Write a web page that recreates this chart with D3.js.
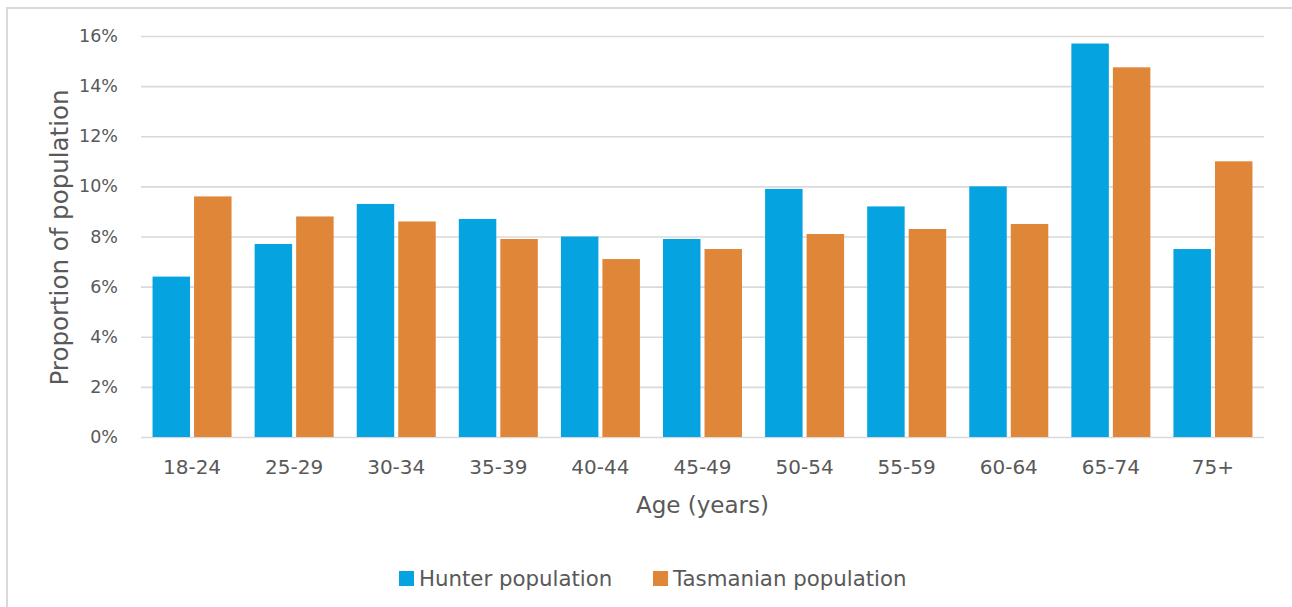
<!DOCTYPE html>
<html>
<head>
<meta charset="utf-8">
<script src="https://cdn.jsdelivr.net/npm/d3@7"></script>
<style>
  html, body { margin: 0; padding: 0; background: #fff; }
  svg { display: block; }
  text { font-family: "DejaVu Sans", sans-serif; fill: #595959; }
</style>
</head>
<body>
<script>
// Age groups and the share of each population (percent) in each group
const ageGroups = ["18-24", "25-29", "30-34", "35-39", "40-44", "45-49", "50-54", "55-59", "60-64", "65-74", "75+"];
const hunterPopulation = [6.4, 7.7, 9.3, 8.7, 8.0, 7.9, 9.9, 9.2, 10.0, 15.7, 7.5];
const tasmanianPopulation = [9.6, 8.8, 8.6, 7.9, 7.1, 7.5, 8.1, 8.3, 8.5, 14.75, 11.0];
const seriesNames = ["Hunter population", "Tasmanian population"];
const seriesColors = ["#05A4E1", "#DF8639"];
const yTicks = [0, 2, 4, 6, 8, 10, 12, 14, 16];

const W = 1292, H = 607;
const plot = { left: 141, right: 1264, top: 36, bottom: 437 };

const svg = d3.select("body").append("svg")
  .attr("width", W).attr("height", H);

svg.append("rect").attr("width", W).attr("height", H).attr("fill", "#fff");

// Chart area border (left and top edges)
svg.append("path")
  .attr("d", `M7,${H} V8 H${W}`)
  .attr("fill", "none").attr("stroke", "#d9d9d9").attr("stroke-width", 2);

const x0 = d3.scaleBand().domain(ageGroups).range([plot.left, plot.right]).padding(0);
const x1 = d3.scaleBand().domain(seriesNames)
  .range([0, x0.bandwidth()]).paddingInner(0.097).paddingOuter(0.278);
const y = d3.scaleLinear().domain([0, 16]).range([plot.bottom, plot.top]);

// Horizontal gridlines
const yAxis = d3.axisLeft(y).tickValues(yTicks)
  .tickSize(-(plot.right - plot.left)).tickPadding(23)
  .tickFormat(d => d + "%");
const gy = svg.append("g").attr("transform", `translate(${plot.left},0)`).call(yAxis);
gy.select(".domain").remove();
gy.selectAll(".tick line").attr("stroke", "#d9d9d9").attr("stroke-width", 1.6);
gy.selectAll(".tick text")
  .attr("font-size", 17.5).attr("fill", "#595959")
  .style("font-family", "'DejaVu Sans', sans-serif");

// Bars
const rows = ageGroups.map((g, i) => ({ group: g, values: [hunterPopulation[i], tasmanianPopulation[i]] }));
const groups = svg.append("g").selectAll("g").data(rows).join("g")
  .attr("transform", d => `translate(${x0(d.group)},0)`);
groups.selectAll("rect")
  .data(d => d.values.map((v, k) => ({ key: seriesNames[k], value: v, color: seriesColors[k] })))
  .join("rect")
  .attr("x", d => x1(d.key))
  .attr("y", d => y(d.value))
  .attr("width", x1.bandwidth())
  .attr("height", d => y(0) - y(d.value))
  .attr("fill", d => d.color);

// Category axis labels
const xAxis = d3.axisBottom(x0).tickSize(0).tickPadding(23);
const gx = svg.append("g").attr("transform", `translate(0,${plot.bottom})`).call(xAxis);
gx.select(".domain").remove();
gx.selectAll(".tick text")
  .attr("font-size", 20).attr("fill", "#595959")
  .style("font-family", "'DejaVu Sans', sans-serif");

// Axis titles
svg.append("text")
  .attr("x", (plot.left + plot.right) / 2).attr("y", 513)
  .attr("text-anchor", "middle").attr("font-size", 23)
  .text("Age (years)");

svg.append("text")
  .attr("transform", `translate(68,${(plot.top + plot.bottom) / 2 + 1}) rotate(-90)`)
  .attr("text-anchor", "middle").attr("font-size", 24.5)
  .text("Proportion of population");

// Legend
const legendItems = [
  { name: seriesNames[0], color: seriesColors[0], x: 399 },
  { name: seriesNames[1], color: seriesColors[1], x: 653 }
];
const lg = svg.append("g").selectAll("g").data(legendItems).join("g")
  .attr("transform", d => `translate(${d.x},0)`);
lg.append("rect").attr("x", 0).attr("y", 571).attr("width", 15).attr("height", 15)
  .attr("fill", d => d.color);
lg.append("text").attr("x", 20).attr("y", 586).attr("font-size", 21.3)
  .text(d => d.name);
</script>
</body>
</html>
